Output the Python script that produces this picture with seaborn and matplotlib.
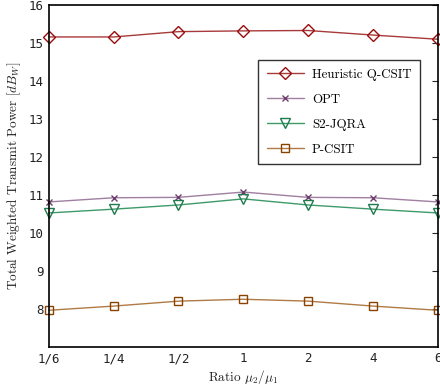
import matplotlib
matplotlib.use('Agg')
import matplotlib.pyplot as plt
import seaborn as sns
import pandas as pd

# Datos
ratios = ['1/6', '1/4', '1/2', '1', '2', '4', '6']
heuristic = [15.16, 15.16, 15.30, 15.32, 15.33, 15.21, 15.10]
opt = [10.82, 10.93, 10.94, 11.08, 10.94, 10.93, 10.82]
s2_jqra = [10.53, 10.63, 10.74, 10.90, 10.74, 10.63, 10.53]
p_csit = [7.97, 8.08, 8.21, 8.26, 8.21, 8.08, 7.97]

series = {
    'Heuristic Q-CSIT': heuristic,
    'OPT': opt,
    'S2-JQRA': s2_jqra,
    'P-CSIT': p_csit,
}
# marcador, tamaño, color marcador, color línea
estilos = {
    'Heuristic Q-CSIT': ('D', 6, '#9b0d0d', '#a83a3a'),
    'OPT': ('x', 4.5, '#6e3e6e', '#a07fa0'),
    'S2-JQRA': ('v', 6.5, '#1f7a4d', '#3f9a6a'),
    'P-CSIT': ('s', 5.5, '#8a4200', '#b07a45'),
}

filas = []
for nombre, valores in series.items():
    for i, (r, v) in enumerate(zip(ratios, valores)):
        filas.append({'pos': i, 'ratio': r, 'valor': v, 'serie': nombre})
df = pd.DataFrame(filas)

sns.set_style('white')
plt.rcParams['mathtext.fontset'] = 'cm'

fig = plt.figure(figsize=(4.4, 3.87), dpi=100)
ax = fig.add_axes([0.111, 0.103, 0.884, 0.884])

for nombre in series:
    marker, ms, mcolor, lcolor = estilos[nombre]
    sub = df[df['serie'] == nombre]
    sns.lineplot(data=sub, x='pos', y='valor', ax=ax, color=lcolor, lw=1.0,
                 label=nombre, legend=False)
    linea = ax.lines[-1]
    linea.set_marker(marker)
    linea.set_markersize(ms)
    linea.set_markerfacecolor('none')
    linea.set_markeredgecolor(mcolor)
    linea.set_markeredgewidth(1.0)
    linea.set_clip_on(False)

ax.set_xlim(0, 6)
ax.set_ylim(7, 16)
ax.set_xticks(range(len(ratios)))
ax.set_xticklabels(ratios)
ax.set_yticks(range(8, 17))
for lab in ax.get_xticklabels() + ax.get_yticklabels():
    lab.set_fontfamily('DejaVu Sans Mono')
    lab.set_fontsize(9)
    lab.set_color('#222222')
ax.tick_params(direction='in', length=4, right=True, top=False, width=0.8)
for s in ax.spines.values():
    s.set_linewidth(1.2)
    s.set_color('black')

ax.set_xlabel(r'Ratio $\mu_2/\mu_1$', fontfamily='cmr10', fontsize=9.5, labelpad=2, color='#222222')
ax.set_ylabel(r'Total Weighted Transmit Power $[dB_W]$', fontfamily='cmr10', fontsize=9.5,
              color='#222222')

leg = ax.legend(loc='upper right', bbox_to_anchor=(0.954, 0.839), borderaxespad=0,
                prop={'family': 'cmr10', 'size': 9.3},
                frameon=True, fancybox=False, edgecolor='black', handlelength=2.9,
                handletextpad=0.6, labelspacing=1.0, borderpad=0.65)
leg.get_frame().set_linewidth(1.0)
for t in leg.get_texts():
    t.set_color('black')

fig.savefig('out.png', dpi=100)
